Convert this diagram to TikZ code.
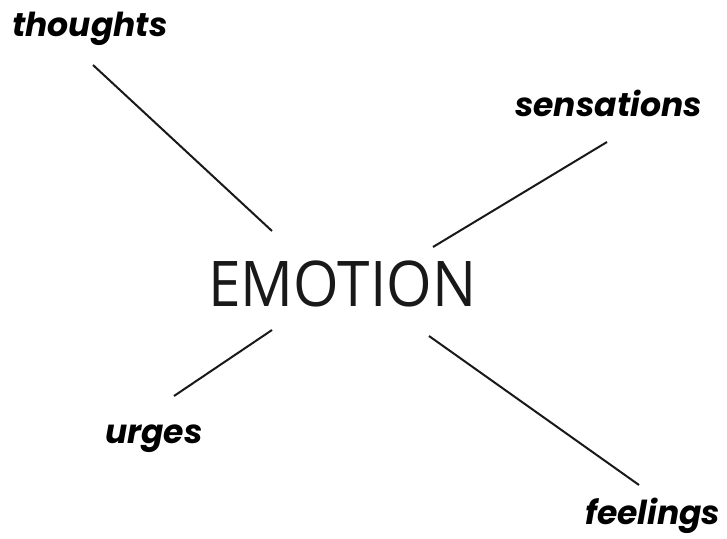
\documentclass[tikz,border=0pt]{standalone}
\usepackage{fontspec}
\setmainfont{Open Sans}
\newfontfamily\labelfont{Poppins}
\begin{document}
\begin{tikzpicture}[x=1pt,y=-1pt,
  lbl/.style={anchor=base west,inner sep=0pt,font=\labelfont\bfseries\itshape\fontsize{33}{38}\selectfont},
  ray/.style={line width=2pt,black!90}]
\useasboundingbox (0,0) rectangle (727,538);
\node[anchor=base west,inner sep=0pt,font=\fontsize{63}{70}\selectfont,text=black!90] (emo) at (208,306) {\scalebox{0.93}[1]{EMOTION}};
\node[lbl] (th) at (12,36) {thoughts};
\node[lbl] (se) at (515,116) {sensations};
\node[lbl] (ur) at (105,443) {urges};
\node[lbl] (fe) at (585,524) {feelings};
\coordinate (t1) at (93,65);  \coordinate (t2) at (272,231);
\coordinate (s1) at (607,142); \coordinate (s2) at (433,247);
\coordinate (u1) at (272,330); \coordinate (u2) at (174,396);
\coordinate (f1) at (429,336); \coordinate (f2) at (639,485);
\draw[ray] (t1) -- (t2);
\draw[ray] (s1) -- (s2);
\draw[ray] (u1) -- (u2);
\draw[ray] (f1) -- (f2);
\end{tikzpicture}
\end{document}
